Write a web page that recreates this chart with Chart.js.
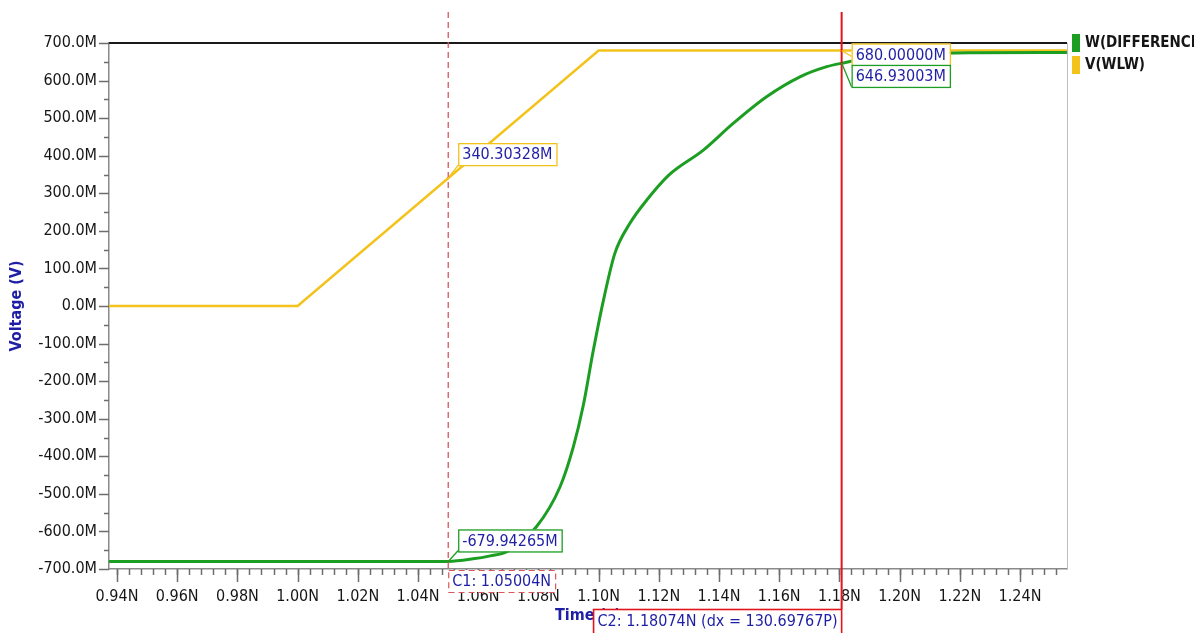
<!DOCTYPE html>
<html>
<head>
<meta charset="UTF-8">
<title>Voltage vs Time</title>
<script src="https://cdn.jsdelivr.net/npm/chart.js"></script>
<style>
  html, body { margin: 0; padding: 0; background: #fff; }
</style>
</head>
<body>
<canvas id="waveChart" width="1194" height="633"></canvas>
<script>
// ---- data (time in ns, voltage in mV) ----
const seriesNames = ['W(DIFFERENCE)', 'V(WLW)'];

const diffTime = [0.9373, 1.045, 1.050, 1.0583, 1.064, 1.0695, 1.0794, 1.0872, 1.0916, 1.0949, 1.0982,
                  1.1016, 1.1054, 1.1104, 1.1160, 1.1234, 1.1348, 1.1447, 1.1558, 1.1669, 1.1758, 1.1813,
                  1.190, 1.200, 1.210, 1.225, 1.2556];
const diffVolt = [-680, -680, -679.9, -673, -665, -654, -587, -481, -375, -265, -120,
                  15, 140, 220, 282, 349, 415, 486, 557, 610, 637, 647,
                  660, 668, 672, 674, 675];

const wlwTime = [0.9373, 1.000, 1.100, 1.2556];
const wlwVolt = [0, 0, 680, 680];

const xMajorTicks = [0.94, 0.96, 0.98, 1.00, 1.02, 1.04, 1.06, 1.08, 1.10, 1.12, 1.14, 1.16, 1.18, 1.20, 1.22, 1.24];
const yMajorTicks = [-700, -600, -500, -400, -300, -200, -100, 0, 100, 200, 300, 400, 500, 600, 700];

const cursorNames = ['C1', 'C2'];
const cursorTimes = [1.05004, 1.18074];
const cursorDx = '130.69767P';
// readouts per cursor: [W(DIFFERENCE), V(WLW)]
const c1Readout = [-679.94265, 340.30328];
const c2Readout = [646.93003, 680.00000];

// ---- style ----
const FONT = '"DejaVu Sans Condensed", "DejaVu Sans", sans-serif';
const GREEN = '#1c9e22';
const YELLOW = '#f3c31c';
const BLUE = '#1f1fa6';
const RED = '#e3141b';

function pts(xs, ys) {
    return xs.map((x, i) => ({ x: x, y: ys[i] }));
}

// minor tick positions (every 0.004N and every 50M)
const xMinorTicks = [];
for (let k = 0; k <= 80; k++) xMinorTicks.push(0.936 + k * 0.004);
const yMinorTicks = [];
for (let v = -650; v < 700; v += 100) yMinorTicks.push(v);

const scopeDecor = {
    id: 'scopeDecor',
    afterDraw(chart) {
        const ctx = chart.ctx;
        const a = chart.chartArea;
        const xs = chart.scales.x, ys = chart.scales.y;
        ctx.save();

        // tick marks
        ctx.strokeStyle = '#6d6d6d';
        ctx.lineWidth = 1.5;
        const drawX = (v, len) => {
            const px = Math.round(xs.getPixelForValue(v)) + 0.5;
            if (px < a.left || px > a.right) return;
            ctx.beginPath(); ctx.moveTo(px, a.bottom); ctx.lineTo(px, a.bottom + len); ctx.stroke();
        };
        const drawY = (v, len) => {
            const py = Math.round(ys.getPixelForValue(v)) + 0.5;
            if (py < a.top - 1 || py > a.bottom + 1) return;
            ctx.beginPath(); ctx.moveTo(a.left, py); ctx.lineTo(a.left - len, py); ctx.stroke();
        };
        xMinorTicks.forEach(v => drawX(v, 6));
        xMajorTicks.forEach(v => drawX(v, 13));
        yMinorTicks.forEach(v => drawY(v, 5));
        yMajorTicks.forEach(v => drawY(v, 10));

        // frame: black top line, light right edge
        ctx.strokeStyle = '#bdbdbd';
        ctx.lineWidth = 1;
        ctx.beginPath(); ctx.moveTo(a.right + 0.5, a.top); ctx.lineTo(a.right + 0.5, a.bottom); ctx.stroke();
        ctx.strokeStyle = '#1a1a1a';
        ctx.lineWidth = 2;
        ctx.beginPath(); ctx.moveTo(a.left, a.top); ctx.lineTo(a.right, a.top); ctx.stroke();

        ctx.font = '16px ' + FONT;
        ctx.textBaseline = 'middle';

        const c1x = xs.getPixelForValue(cursorTimes[0]);
        const c2x = xs.getPixelForValue(cursorTimes[1]);

        // cursor C1 (dashed)
        ctx.strokeStyle = '#d9575a';
        ctx.lineWidth = 1.3;
        ctx.setLineDash([6, 4]);
        ctx.beginPath(); ctx.moveTo(c1x, 12); ctx.lineTo(c1x, a.bottom + 1); ctx.stroke();
        // cursor C2 (solid)
        ctx.setLineDash([]);
        ctx.strokeStyle = RED;
        ctx.lineWidth = 2;
        ctx.beginPath(); ctx.moveTo(c2x, 12); ctx.lineTo(c2x, a.bottom + 40); ctx.stroke();

        // readout boxes
        const readout = (cx, val, color, boxDy, leadDy) => {
            const py = ys.getPixelForValue(val);
            const txt = val.toFixed(5) + 'M';
            const w = ctx.measureText(txt).width + 8;
            const bx = cx + 10, by = py + boxDy;
            ctx.strokeStyle = color;
            ctx.lineWidth = 1.3;
            ctx.beginPath(); ctx.moveTo(cx, py); ctx.lineTo(bx, py + leadDy); ctx.stroke();
            ctx.fillStyle = '#fff';
            ctx.fillRect(bx, by, w, 22);
            ctx.strokeRect(bx + 0.5, by + 0.5, w, 22);
            ctx.fillStyle = BLUE;
            ctx.textAlign = 'left';
            ctx.fillText(txt, bx + 4, by + 12);
        };
        readout(c1x, c1Readout[1], YELLOW, -35, -13);
        readout(c1x, c1Readout[0], GREEN, -32, -11);
        readout(c2x, c2Readout[1], YELLOW, -7, 6);
        readout(c2x, c2Readout[0], GREEN, 2, 24);

        // cursor labels under the axis
        const t1 = cursorNames[0] + ': ' + cursorTimes[0].toFixed(5) + 'N';
        const w1 = ctx.measureText(t1).width + 8;
        ctx.fillStyle = '#fff';
        ctx.fillRect(c1x, a.bottom + 1, w1, 22);
        ctx.setLineDash([6, 4]);
        ctx.strokeStyle = '#d9575a';
        ctx.lineWidth = 1.2;
        ctx.strokeRect(c1x + 0.5, a.bottom + 1.5, w1, 22);
        ctx.setLineDash([]);
        ctx.fillStyle = BLUE;
        ctx.fillText(t1, c1x + 4, a.bottom + 13);

        const t2 = cursorNames[1] + ': ' + cursorTimes[1].toFixed(5) + 'N (dx = ' + cursorDx + ')';
        const w2 = ctx.measureText(t2).width + 8;
        ctx.fillStyle = '#fff';
        ctx.fillRect(c2x - w2, a.bottom + 40, w2, 26);
        ctx.strokeStyle = RED;
        ctx.lineWidth = 1.6;
        ctx.strokeRect(c2x - w2, a.bottom + 40.5, w2, 26);
        ctx.fillStyle = BLUE;
        ctx.fillText(t2, c2x - w2 + 4, a.bottom + 53);

        // legend
        ctx.font = 'bold 15px ' + FONT;
        chart.data.datasets.forEach((ds, i) => {
            const ly = a.top - 9 + i * 22;
            ctx.fillStyle = ds.borderColor;
            ctx.fillRect(a.right + 5, ly, 8, 18);
            ctx.fillStyle = '#151515';
            ctx.fillText(ds.label, a.right + 18, ly + 9);
        });
        ctx.restore();
    }
};

new Chart(document.getElementById('waveChart').getContext('2d'), {
    type: 'line',
    data: {
        datasets: [{
            label: seriesNames[0],
            data: pts(diffTime, diffVolt),
            borderColor: GREEN,
            borderWidth: 3,
            pointRadius: 0,
            cubicInterpolationMode: 'monotone',
            fill: false
        }, {
            label: seriesNames[1],
            data: pts(wlwTime, wlwVolt),
            borderColor: YELLOW,
            borderWidth: 2.5,
            pointRadius: 0,
            tension: 0,
            fill: false
        }]
    },
    options: {
        responsive: false,
        animation: false,
        events: [],
        layout: { padding: { top: 43, right: 127, left: 0, bottom: 0 } },
        plugins: { legend: { display: false }, tooltip: { enabled: false } },
        scales: {
            x: {
                type: 'linear',
                min: 0.93734,
                max: 1.25561,
                afterBuildTicks: s => { s.ticks = xMajorTicks.map(v => ({ value: v })); },
                afterFit: s => { s.height = 64; },
                grid: { drawOnChartArea: false, drawTicks: false },
                border: { display: true, color: '#8a8a8a', width: 1.5 },
                ticks: {
                    autoSkip: false,
                    maxRotation: 0,
                    padding: 18,
                    color: '#161616',
                    font: { family: FONT, size: 16 },
                    callback: v => v.toFixed(2) + 'N'
                },
                title: {
                    display: true,
                    text: 'Time (s)',
                    color: BLUE,
                    font: { family: FONT, size: 16, weight: 'bold' },
                    padding: { top: 4, bottom: 8 }
                }
            },
            y: {
                type: 'linear',
                min: -700,
                max: 700,
                afterBuildTicks: s => { s.ticks = yMajorTicks.map(v => ({ value: v })); },
                afterFit: s => { s.width = 109; },
                grid: { drawOnChartArea: false, drawTicks: false },
                border: { display: true, color: '#8a8a8a', width: 1.5 },
                ticks: {
                    autoSkip: false,
                    padding: 12,
                    color: '#161616',
                    font: { family: FONT, size: 16 },
                    callback: v => v.toFixed(1) + 'M'
                },
                title: {
                    display: true,
                    text: 'Voltage (V)',
                    color: BLUE,
                    font: { family: FONT, size: 16, weight: 'bold' },
                    padding: { top: 7, bottom: 4 }
                }
            }
        }
    },
    plugins: [scopeDecor]
});
</script>
</body>
</html>
